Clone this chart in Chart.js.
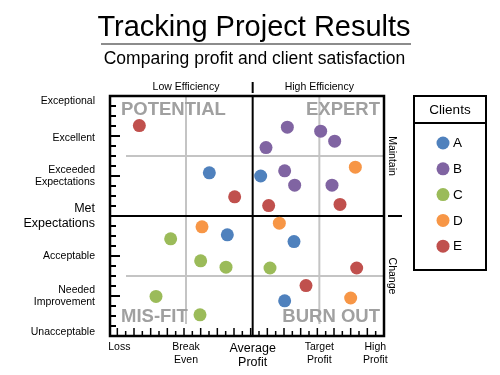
<!DOCTYPE html>
<html>
<head>
<meta charset="utf-8">
<script src="https://cdn.jsdelivr.net/npm/chart.js@4.4.1/dist/chart.umd.min.js"></script>
<style>
  html, body { margin: 0; padding: 0; background: #fff; }
  #wrap { width: 500px; height: 375px; }
</style>
</head>
<body>
<div id="wrap"><canvas id="chart" width="500" height="375"></canvas></div>
<script>
const FONT = "'Liberation Sans', Arial, sans-serif";

const clients = ["A", "B", "C", "D", "E"];
const clientColors = ["#4f81bd", "#8064a2", "#9bbb59", "#f79646", "#c0504d"];

// profit: 0 = loss, 1 = break even, 2 = average, 3 = target
// rating: 0 = unacceptable .. 6 = exceptional
const profitA = [1.35, 2.12, 1.62, 2.62, 2.48];
const ratingA = [4.08, 4.00, 2.53, 2.36, 0.88];
const profitB = [2.52, 3.02, 3.23, 2.20, 2.48, 2.63, 3.19];
const ratingB = [5.22, 5.12, 4.87, 4.71, 4.13, 3.77, 3.77];
const profitC = [0.77, 1.22, 1.60, 2.26, 0.55, 1.21];
const ratingC = [2.43, 1.88, 1.72, 1.70, 0.99, 0.53];
const profitD = [3.54, 1.24, 2.40, 3.47];
const ratingD = [4.22, 2.73, 2.82, 0.95];
const profitE = [0.30, 1.73, 2.24, 3.31, 3.56, 2.80];
const ratingE = [5.26, 3.48, 3.26, 3.29, 1.70, 1.26];

const profitTicks = [0, 1, 2, 3, 3.84];
const profitLabels = ["Loss", ["Break", "Even"], ["Average", "Profit"], ["Target", "Profit"], ["High", "Profit"]];
const ratingTicks = [0.1, 1, 2, 3, 4, 4.94, 5.87];
const ratingLabels = ["Unacceptable", ["Needed", "Improvement"], "Acceptable", ["Met", "Expectations"],
  ["Exceeded", "Expectations"], "Excellent", "Exceptional"];
const quadrantNames = ["POTENTIAL", "EXPERT", "MIS-FIT", "BURN OUT"];

const seriesX = [profitA, profitB, profitC, profitD, profitE];
const seriesY = [ratingA, ratingB, ratingC, ratingD, ratingE];

const datasets = clients.map((name, i) => ({
  label: name,
  data: seriesX[i].map((x, j) => ({ x, y: seriesY[i][j] })),
  backgroundColor: clientColors[i],
  borderWidth: 0,
  pointRadius: 6.5,
  pointHoverRadius: 6.5
}));

function line(ctx, x1, y1, x2, y2) {
  ctx.beginPath();
  ctx.moveTo(x1, y1);
  ctx.lineTo(x2, y2);
  ctx.stroke();
}

const quadrantPlugin = {
  id: "quadrants",
  beforeDatasetsDraw(chart) {
    const { ctx, chartArea: a, scales: { x, y } } = chart;
    ctx.save();

    // quadrant guides
    ctx.strokeStyle = "#c4c4c4";
    ctx.lineWidth = 2;
    [1, 3].forEach(v => line(ctx, x.getPixelForValue(v), a.top, x.getPixelForValue(v), a.bottom - 12));
    [1.5, 4.5].forEach(v => line(ctx, a.left + 16, y.getPixelForValue(v), a.right, y.getPixelForValue(v)));

    ctx.strokeStyle = "#000";
    line(ctx, x.getPixelForValue(2), a.top, x.getPixelForValue(2), a.bottom);
    line(ctx, a.left, y.getPixelForValue(3), a.right, y.getPixelForValue(3));
    line(ctx, a.right + 4, y.getPixelForValue(3), a.right + 18, y.getPixelForValue(3));

    // minor tick marks
    ctx.lineWidth = 1.5;
    for (let k = -1; k * 0.125 <= x.max; k++) {
      const px = x.getPixelForValue(k * 0.125 - 0.03);
      if (px <= a.left + 2 || px >= a.right - 1) continue;
      line(ctx, px, a.bottom, px, a.bottom - (k % 2 === 0 ? 8 : 5));
    }
    ctx.lineWidth = 2;
    for (let k = 1; k * 0.25 < y.max; k++) {
      const py = y.getPixelForValue(k * 0.25);
      line(ctx, a.left, py, a.left + (k % 4 === 0 ? 10 : 6), py);
    }

    // quadrant names
    ctx.fillStyle = "#a0a0a0";
    ctx.font = "bold 18.5px " + FONT;
    ctx.textBaseline = "alphabetic";
    ctx.textAlign = "left";
    ctx.fillText(quadrantNames[0], a.left + 11, a.top + 19);
    ctx.fillText(quadrantNames[2], a.left + 11, a.bottom - 14);
    ctx.textAlign = "right";
    ctx.fillText(quadrantNames[1], a.right - 4, a.top + 19);
    ctx.fillText(quadrantNames[3], a.right - 4, a.bottom - 14);
    ctx.restore();
  },
  afterDatasetsDraw(chart) {
    const { ctx, chartArea: a } = chart;
    ctx.save();
    ctx.strokeStyle = "#000";
    ctx.lineWidth = 2.5;
    ctx.strokeRect(a.left, a.top, a.right - a.left, a.bottom - a.top);
    ctx.restore();
  },
  afterDraw(chart) {
    const { ctx, chartArea: a, scales: { x, y } } = chart;
    ctx.save();
    ctx.fillStyle = "#000";
    ctx.textAlign = "center";
    ctx.textBaseline = "alphabetic";
    ctx.font = "29px " + FONT;
    ctx.fillText("Tracking Project Results", 254, 36);
    ctx.strokeStyle = "#8c8c8c";
    ctx.lineWidth = 2;
    line(ctx, 101, 44, 411, 44);
    ctx.font = "17.5px " + FONT;
    ctx.fillText("Comparing profit and client satisfaction", 254.5, 64);

    ctx.font = "10.5px " + FONT;
    ctx.textBaseline = "middle";
    ctx.fillText("Low Efficiency", x.getPixelForValue(1), 87);
    ctx.fillText("High Efficiency", x.getPixelForValue(3), 87);
    ctx.strokeStyle = "#000";
    ctx.lineWidth = 2;
    line(ctx, x.getPixelForValue(2), 82, x.getPixelForValue(2), 93);

    [["Maintain", 4.5], ["Change", 1.5]].forEach(([t, v]) => {
      ctx.save();
      ctx.translate(a.right + 8, y.getPixelForValue(v));
      ctx.rotate(Math.PI / 2);
      ctx.fillText(t, 0, 0);
      ctx.restore();
    });

    // legend box
    const L = 414, T = 96, R = 486, B = 270;
    ctx.lineWidth = 2;
    ctx.strokeRect(L, T, R - L, B - T);
    line(ctx, L, 123, R, 123);
    ctx.font = "13.5px " + FONT;
    ctx.fillText("Clients", (L + R) / 2, 110);
    ctx.textAlign = "left";
    chart.data.datasets.forEach((ds, i) => {
      const cy = 143 + i * 25.8;
      ctx.fillStyle = ds.backgroundColor;
      ctx.beginPath();
      ctx.arc(443, cy, 6.5, 0, Math.PI * 2);
      ctx.fill();
      ctx.fillStyle = "#000";
      ctx.fillText(ds.label, 453, cy + 0.5);
    });
    ctx.restore();
  }
};

new Chart(document.getElementById("chart").getContext("2d"), {
  type: "scatter",
  data: { datasets },
  plugins: [quadrantPlugin],
  options: {
    responsive: false,
    animation: false,
    layout: { padding: { top: 96, right: 116, left: 0, bottom: 0 } },
    plugins: { legend: { display: false }, tooltip: { enabled: false } },
    scales: {
      x: {
        min: -0.14,
        max: 3.97,
        afterFit(scale) { scale.height = 39; },
        afterBuildTicks(scale) { scale.ticks = profitTicks.map(value => ({ value })); },
        grid: { display: false },
        border: { display: false },
        ticks: {
          autoSkip: false,
          maxRotation: 0,
          padding: -3,
          color: "#000",
          font: c => c.index === 2 ? { family: FONT, size: 12.5, lineHeight: 1.15 } : { family: FONT, size: 10.5, lineHeight: 1.2 },
          callback: (v, i) => profitLabels[i]
        }
      },
      y: {
        min: 0,
        max: 6,
        afterFit(scale) { scale.width = 110; },
        afterBuildTicks(scale) { scale.ticks = ratingTicks.map(value => ({ value })); },
        grid: { display: false },
        border: { display: false },
        ticks: {
          autoSkip: false,
          padding: 7,
          color: "#000",
          font: c => c.index === 3 ? { family: FONT, size: 12.5, lineHeight: 1.25 } : { family: FONT, size: 10.5, lineHeight: 1.2 },
          callback: (v, i) => ratingLabels[i]
        }
      }
    }
  }
});
</script>
</body>
</html>
